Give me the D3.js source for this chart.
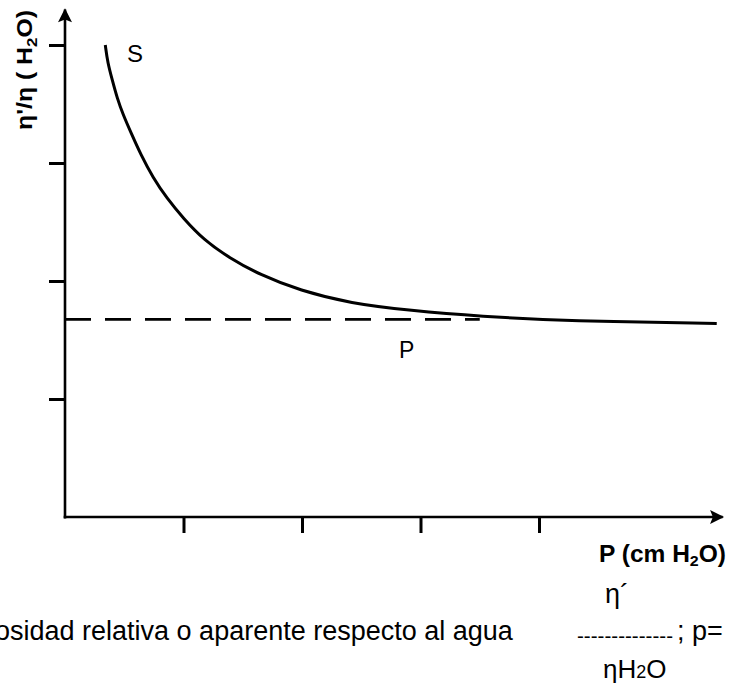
<!DOCTYPE html>
<html>
<head>
<meta charset="utf-8">
<script src="https://cdn.jsdelivr.net/npm/d3@7"></script>
<style>
  body { margin: 0; background: #fff; }
  svg { display: block; }
  text { font-family: "Liberation Sans", Arial, sans-serif; fill: #000; }
</style>
</head>
<body>
<svg id="chart" width="732" height="689"></svg>
<script>
// Data: pressure P vs relative viscosity (curve S)
const pressure  = [0.34, 0.36, 0.40, 0.44, 0.49, 0.56, 0.64, 0.74, 0.86, 1.00, 1.17, 1.38, 1.65, 1.98, 2.41, 2.91, 3.50, 4.26, 5.50];
const viscosity = [4.00, 3.85, 3.70, 3.55, 3.41, 3.25, 3.07, 2.88, 2.70, 2.53, 2.35, 2.20, 2.05, 1.92, 1.81, 1.75, 1.70, 1.66, 1.64];
const plasmaLevel = 1.675;   // dashed line P
const plasmaEnd = 3.5;
const xTicks = [1, 2, 3, 4];
const yTicks = [1, 2, 3, 4];

const svg = d3.select("#chart");
const x = d3.scaleLinear().domain([0, 5.55]).range([65, 65 + 5.55 * 118.5]);
const y = d3.scaleLinear().domain([0, 4.3]).range([517, 517 - 4.3 * 118]);

// arrow head
const defs = svg.append("defs");
defs.append("marker").attr("id", "arrow").attr("viewBox", "0 0 10 10")
  .attr("refX", 9).attr("refY", 5).attr("markerWidth", 17).attr("markerHeight", 14)
  .attr("markerUnits", "userSpaceOnUse").attr("orient", "auto")
  .append("path").attr("d", "M0,0 L10,5 L0,10 L2,5 Z").attr("fill", "#000");

// Y axis
const yAxis = d3.axisLeft(y).tickValues(yTicks).tickSize(16).tickSizeOuter(0).tickFormat("");
const gy = svg.append("g").attr("transform", `translate(${x(0)},0)`).call(yAxis);
gy.select(".domain").remove();
gy.selectAll(".tick line").attr("stroke", "#000").attr("stroke-width", 3);
svg.append("line").attr("x1", x(0)).attr("y1", y(0) + 1.5).attr("x2", x(0)).attr("y2", y(4.3))
  .attr("stroke", "#000").attr("stroke-width", 2.6).attr("marker-end", "url(#arrow)");

// X axis
const xAxis = d3.axisBottom(x).tickValues(xTicks).tickSize(16).tickSizeOuter(0).tickFormat("");
const gx = svg.append("g").attr("transform", `translate(0,${y(0)})`).call(xAxis);
gx.select(".domain").remove();
gx.selectAll(".tick line").attr("stroke", "#000").attr("stroke-width", 3);
svg.append("line").attr("x1", x(0) - 1.3).attr("y1", y(0)).attr("x2", x(5.55)).attr("y2", y(0))
  .attr("stroke", "#000").attr("stroke-width", 2.6).attr("marker-end", "url(#arrow)");

// Dashed plasma line P
svg.append("line").attr("x1", x(0)).attr("x2", x(plasmaEnd))
  .attr("y1", y(plasmaLevel)).attr("y2", y(plasmaLevel))
  .attr("stroke", "#000").attr("stroke-width", 2.8).attr("stroke-dasharray", "26,14");

// Curve S
const pts = pressure.map((p, i) => [p, viscosity[i]]);
const line = d3.line().x(d => x(d[0])).y(d => y(d[1])).curve(d3.curveBasis);
svg.append("path").datum(pts).attr("d", line)
  .attr("fill", "none").attr("stroke", "#000").attr("stroke-width", 3);

// Labels
svg.append("text").attr("x", 127).attr("y", 62).attr("font-size", 24).text("S");
svg.append("text").attr("x", 399).attr("y", 358).attr("font-size", 23).text("P");

// Y axis label (rotated)
const yl = svg.append("text").attr("transform", "translate(32,70) rotate(-90)")
  .attr("text-anchor", "middle").attr("font-size", 22).attr("font-weight", "bold")
  .attr("textLength", 120).attr("lengthAdjust", "spacingAndGlyphs");
yl.append("tspan").text("η'/η ( H");
yl.append("tspan").attr("font-size", 15).attr("dy", 5).text("2");
yl.append("tspan").attr("dy", -5).text("O)");

// X axis label
const xl = svg.append("text").attr("x", 599).attr("y", 562).attr("font-size", 23).attr("font-weight", "bold")
  .attr("textLength", 127).attr("lengthAdjust", "spacingAndGlyphs");
xl.append("tspan").text("P (cm H");
xl.append("tspan").attr("font-size", 15).attr("dy", 4).text("2");
xl.append("tspan").attr("dy", -4).text("O)");

// Bottom caption
svg.append("text").attr("x", -5).attr("y", 640).attr("font-size", 27)
  .text("osidad relativa o aparente respecto al agua");
svg.append("text").attr("x", 577).attr("y", 643).attr("font-size", 20)
  .attr("textLength", 96).attr("lengthAdjust", "spacingAndGlyphs").text("--------------");
svg.append("text").attr("x", 677).attr("y", 640).attr("font-size", 27).text("; p=");
svg.append("text").attr("x", 605).attr("y", 603).attr("font-size", 27).text("η´");
const eta = svg.append("text").attr("x", 603).attr("y", 678).attr("font-size", 26);
eta.append("tspan").text("ηH");
eta.append("tspan").attr("font-size", 18).text("2");
eta.append("tspan").text("O");
</script>
</body>
</html>
